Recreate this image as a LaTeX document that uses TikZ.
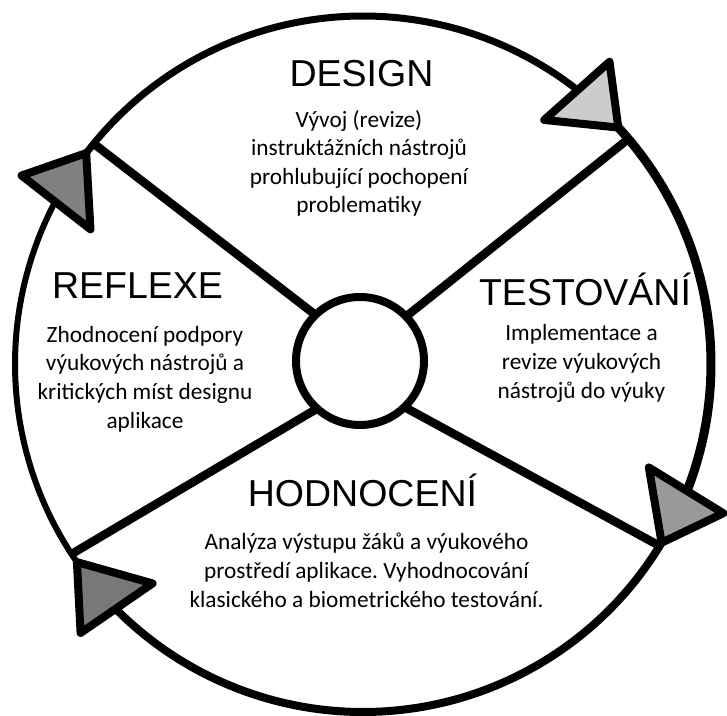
\documentclass[tikz,border=0pt]{standalone}
\usepackage{fontspec}
\setmainfont{Carlito}
\newfontfamily\headfont{Liberation Sans}
\usetikzlibrary{calc}
\frenchspacing

\begin{document}
\begin{tikzpicture}[x=1pt, y=1pt,
  ttl/.style={font=\headfont\fontsize{37.5}{40}\selectfont, anchor=base, inner sep=0pt},
  txt/.style={font=\fontsize{23.3}{28.6}\selectfont, align=center, anchor=base, inner sep=0pt},
  ring/.style={line cap=butt},
  spoke/.style={line width=8.5pt},
  tri/.style={draw=black, line width=8pt, line join=round},
  hubst/.style={draw=black, fill=white, circle, line width=8pt, minimum size=128pt, inner sep=0pt, outer sep=0pt}]
\useasboundingbox (-363,-351) rectangle (364,364);
\draw[ring, line width=7pt] (142.7:348) arc[start angle=142.7, end angle=51.7, radius=348];
\draw[ring, line width=9pt] (42.8:348) arc[start angle=42.8, end angle=-21.6, radius=348];
\draw[ring, line width=8pt] (-30.9:348) arc[start angle=-30.9, end angle=-135.5, radius=348];
\draw[ring, line width=6pt] (214.7:348) arc[start angle=214.7, end angle=152, radius=348];
\foreach \b/\t/\c in {152.4/142.7/black!50, 52.1/42.8/black!20, -21.2/-30.9/black!40, 224.9/214.7/black!53}
  \draw[tri, fill=\c] (\b-1.3:390) -- (\t:348) -- (\b+1.3:304) -- cycle;
\coordinate (j1) at (140.7:348);
\coordinate (j2) at (40.3:348);
\coordinate (j3) at (-31.5:350);
\coordinate (j4) at (213.1:349);
\node[hubst] (hub) at (-3,3) {};
\draw[spoke] (j1) -- (hub.134);
\draw[spoke] (j2) -- (hub.44);
\draw[spoke] (j3) -- (hub.-46);
\draw[spoke] (j4) -- (hub.228.6);
\node[ttl] (design) at (-1.5,277.3) {DESIGN};
\node[txt] (designtxt) at (-4,151) {Vývoj (revize)\\instruktážních nástrojů\\prohlubující pochopení\\problematiky};
\node[ttl] (reflexe) at (-225.5,65.7) {REFLEXE};
\node[txt] (reflexetxt) at (-218,-64) {Zhodnocení podpory\\výukových nástrojů a\\kritických míst designu\\aplikace};
\node[ttl] (testovani) at (222,59) {TESTOVÁNÍ};
\node[txt] (testovanitxt) at (218.5,-34) {Implementace a\\revize výukových\\nástrojů do výuky};
\node[ttl] (hodnoceni) at (-0.5,-142.7) {HODNOCENÍ};
\node[txt] (hodnocenitxt) at (3.5,-243) {Analýza výstupu žáků a výukového\\prostředí aplikace. Vyhodnocování\\klasického a biometrického testování.};
\end{tikzpicture}
\end{document}
